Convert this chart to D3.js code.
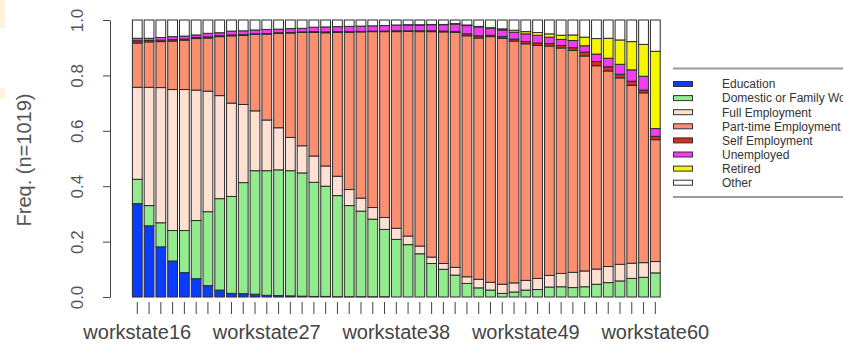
<!DOCTYPE html>
<html>
<head>
<meta charset="utf-8">
<script src="https://cdn.jsdelivr.net/npm/d3@7"></script>
<style>
  body { margin: 0; background: #fff; }
  svg { display: block; font-family: "Liberation Sans", Arial, sans-serif; }
</style>
</head>
<body>
<div id="chart"></div>
<script>
// time points workstate16 .. workstate60
var workstates = d3.range(16, 61).map(function (a) { return "workstate" + a; });
var xLabels = ["workstate16", "workstate27", "workstate38", "workstate49", "workstate60"];
var yTicks = [0, 0.2, 0.4, 0.6, 0.8, 1.0];

var stateNames = ["Education", "Domestic or Family Work", "Full Employment", "Part-time Employment",
  "Self Employment", "Unemployed", "Retired", "Other"];
var stateColors = ["#0a3cff", "#92ec8e", "#ffe0d2", "#fb9070", "#dc2a1e", "#f43cf4", "#f6f600", "#ffffff"];

// relative frequencies per time point (n=1019)
var education = [.337, .257, .181, .130, .088, .066, .041, .025, .013, .012, .010, .006, .005, .004, .003,
  .002, .002, .001, .001, .001, .001, .001, 0, 0, 0, 0, 0, 0, 0, 0, 0, 0, 0, 0, 0, 0, 0, 0, 0, 0, 0, 0, 0, 0, 0];
var domestic = [.088, .073, .087, .110, .152, .210, .267, .330, .350, .401, .446, .450, .454, .452, .445,
  .412, .398, .365, .329, .309, .280, .243, .208, .189, .156, .121, .100, .079, .049, .033,
  .025, .013, .018, .025, .027, .036, .037, .034, .037, .046, .052, .058, .067, .071, .087];
var fullEmp = [.332, .427, .488, .509, .509, .471, .435, .372, .337, .282, .216, .183, .152, .120, .098,
  .095, .073, .070, .058, .047, .042, .043, .040, .031, .028, .023, .021, .028, .024, .031,
  .028, .033, .033, .035, .040, .042, .048, .055, .057, .055, .058, .060, .055, .053, .041];
var partTime = [.160, .164, .166, .175, .178, .186, .192, .213, .243, .249, .276, .310, .341, .377, .409,
  .446, .481, .519, .568, .600, .635, .671, .710, .739, .774, .814, .836, .848, .870, .871,
  .887, .888, .873, .854, .841, .828, .814, .801, .776, .734, .706, .673, .642, .613, .440];
var selfEmp = [.008, .005, .005, .005, .004, .004, .004, .003, .003, .003, .002, .002, .002, .002, .002,
  .003, .003, .003, .002, .002, .002, .002, .003, .002, .003, .003, .003, .004, .007, .008,
  .005, .006, .007, .008, .009, .009, .009, .010, .014, .015, .015, .013, .015, .010, .012];
var unemployed = [.009, .008, .010, .011, .011, .009, .013, .011, .014, .014, .014, .015, .013, .014, .013,
  .016, .018, .018, .019, .019, .019, .020, .021, .021, .021, .022, .023, .026, .030, .032,
  .025, .024, .025, .028, .028, .023, .022, .026, .023, .027, .031, .036, .041, .050, .028];
var retired = [0, 0, 0, 0, 0, 0, 0, 0, 0, 0, 0, 0, 0, 0, 0,
  0, 0, 0, 0, 0, 0, 0, 0, .001, .001, .001, .001, .002, .002, .002,
  .002, .004, .007, .008, .010, .012, .015, .020, .031, .056, .072, .088, .102, .115, .279];
var other = [.066, .066, .063, .060, .058, .054, .048, .046, .040, .039, .036, .034, .033, .031, .030,
  .026, .025, .024, .023, .022, .021, .020, .018, .017, .017, .016, .016, .013, .018, .023,
  .028, .032, .037, .042, .045, .050, .055, .054, .062, .067, .066, .072, .078, .088, .113];

var series = [education, domestic, fullEmp, partTime, selfEmp, unemployed, retired, other];

var width = 843, height = 350;
var svg = d3.select("#chart").append("svg")
  .attr("width", width)
  .attr("height", height);

// the little pale patches at the left edge
svg.append("rect").attr("x", 0).attr("y", 0).attr("width", 5).attr("height", 28).attr("fill", "#fdf2da");
svg.append("rect").attr("x", 0).attr("y", 88).attr("width", 5).attr("height", 11).attr("fill", "#fdf2da");

var rows = workstates.map(function (w, i) {
  var row = { name: w };
  stateNames.forEach(function (s, k) { row[s] = series[k][i]; });
  return row;
});

var stacked = d3.stack().keys(stateNames)(rows);

var x = d3.scaleBand()
  .domain(workstates)
  .range([131.4, 661.2])
  .paddingInner(0.17)
  .paddingOuter(0.085);

var y = d3.scaleLinear()
  .domain([0, 1])
  .range([297, 20]);

var color = d3.scaleOrdinal().domain(stateNames).range(stateColors);

var layers = svg.append("g").attr("class", "bars")
  .selectAll("g")
  .data(stacked)
  .enter().append("g")
  .attr("fill", function (d) { return color(d.key); });

layers.selectAll("rect")
  .data(function (d) { return d; })
  .enter().append("rect")
  .attr("x", function (d) { return x(d.data.name); })
  .attr("y", function (d) { return y(d[1]); })
  .attr("width", x.bandwidth())
  .attr("height", function (d) { return y(d[0]) - y(d[1]); })
  .attr("stroke", "#2b2b2b")
  .attr("stroke-width", 1);

// x axis: a tick for every time point, a label every 11
var xAxis = d3.axisBottom(x)
  .tickSize(12)
  .tickSizeOuter(0)
  .tickFormat(function (d) { return xLabels.indexOf(d) >= 0 ? d : ""; });

var gx = svg.append("g")
  .attr("class", "xaxis")
  .attr("transform", "translate(0,302)")
  .call(xAxis);
gx.select(".domain").remove();
gx.selectAll("line").attr("stroke", "#444");
gx.selectAll("text")
  .attr("y", 37)
  .attr("dy", 0)
  .attr("fill", "#444")
  .style("font-size", "20px")
  .style("font-family", "Liberation Sans, Arial, sans-serif");

// y axis with rotated labels, R style
var yAxis = d3.axisLeft(y)
  .tickValues(yTicks)
  .tickSize(7)
  .tickSizeOuter(0)
  .tickFormat(d3.format(".1f"));

var gy = svg.append("g")
  .attr("class", "yaxis")
  .attr("transform", "translate(110,0)")
  .call(yAxis);
gy.select(".domain").attr("stroke", "#444");
gy.selectAll("line").attr("stroke", "#444");
gy.selectAll("text")
  .attr("transform", "rotate(-90)")
  .attr("x", 0)
  .attr("y", -27)
  .attr("dy", 0)
  .attr("fill", "#555")
  .style("text-anchor", "middle")
  .style("font-size", "17px")
  .style("font-family", "Liberation Sans, Arial, sans-serif");

svg.append("text")
  .attr("transform", "translate(31,160) rotate(-90)")
  .attr("text-anchor", "middle")
  .attr("fill", "#555")
  .style("font-size", "20px")
  .text("Freq. (n=1019)");

// legend
var legend = svg.append("g").attr("class", "legend");
legend.append("line").attr("x1", 673).attr("x2", width).attr("y1", 68.5).attr("y2", 68.5)
  .attr("stroke", "#999").attr("stroke-width", 2);
legend.append("line").attr("x1", 673).attr("x2", width).attr("y1", 197).attr("y2", 197)
  .attr("stroke", "#999").attr("stroke-width", 2);

var item = legend.selectAll("g.item")
  .data(stateNames)
  .enter().append("g")
  .attr("class", "item")
  .attr("transform", function (d, i) { return "translate(0," + (84 + i * 14.1) + ")"; });

item.append("rect")
  .attr("x", 673.5)
  .attr("y", -2.5)
  .attr("width", 19)
  .attr("height", 5)
  .attr("fill", function (d) { return color(d); })
  .attr("stroke", "#333")
  .attr("stroke-width", 1);

item.append("text")
  .attr("x", 722)
  .attr("y", 4.3)
  .attr("fill", "#333")
  .style("font-size", "12px")
  .text(function (d) { return d; });
</script>
</body>
</html>
